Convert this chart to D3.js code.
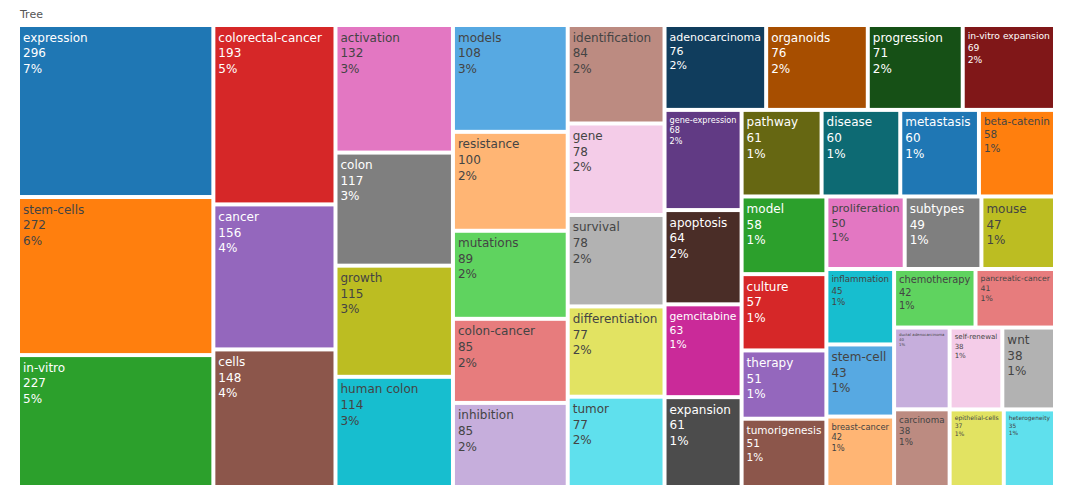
<!DOCTYPE html>
<html>
<head>
<meta charset="utf-8">
<script src="https://cdn.jsdelivr.net/npm/d3@7"></script>
<style>
  body { margin: 0; background: #fff; }
  svg { display: block; font-family: "DejaVu Sans", Verdana, sans-serif; }
</style>
</head>
<body>
<svg id="chart" width="1080" height="494"></svg>
<script>
// keyword labels and their occurrences, in the order the treemap sorts them
const labels = [
  "expression", "stem-cells", "in-vitro", "colorectal-cancer", "cancer", "cells",
  "activation", "colon", "growth", "human colon", "models", "resistance",
  "mutations", "colon-cancer", "inhibition", "identification", "gene", "survival",
  "differentiation", "tumor", "adenocarcinoma", "organoids", "progression",
  "in-vitro expansion", "gene-expression", "apoptosis", "gemcitabine", "expansion",
  "pathway", "disease", "metastasis", "beta-catenin", "model", "culture", "therapy",
  "tumorigenesis", "proliferation", "subtypes", "mouse", "inflammation", "stem-cell",
  "breast-cancer", "chemotherapy", "pancreatic-cancer", "ductal adenocarcinoma",
  "carcinoma", "self-renewal", "wnt", "epithelial-cells", "heterogeneity"
];
const values = [
  296, 272, 227, 193, 156, 148,
  132, 117, 115, 114, 108, 100,
  89, 85, 85, 84, 78, 78,
  77, 77, 76, 76, 71,
  69, 68, 64, 63, 61,
  61, 60, 60, 58, 58, 57, 51,
  51, 50, 49, 47, 45, 43,
  42, 42, 41, 40,
  38, 38, 38, 37, 35
];
const title = "Tree";

// plotly colorway, extended with lighter and darker variants
const colorway = ["#1f77b4", "#ff7f0e", "#2ca02c", "#d62728", "#9467bd",
                  "#8c564b", "#e377c2", "#7f7f7f", "#bcbd22", "#17becf"];

const width = 1080, height = 494;
const area = { x0: 18, y0: 25, x1: 1055, y1: 487 };
const gap = 2;      // half of the white gutter between tiles
const textPad = 3;
const fontSize = 12;
const lineHeight = fontSize * 1.3;

function shade(c, amount) {
  const h = d3.hsl(c);
  h.l = Math.max(0, Math.min(1, h.l + amount));
  return h.formatHex();
}
const colors = colorway
  .concat(colorway.map(c => shade(c, 0.2)))
  .concat(colorway.map(c => shade(c, -0.2)));

function textColor(bg) {
  const c = d3.rgb(bg);
  const brightness = (c.r * 299 + c.g * 587 + c.b * 114) / 1000;
  return brightness < 128 ? "#fff" : "#444";
}

const total = d3.sum(values);
const pct = d3.format(".0%");

const root = d3.hierarchy({
  children: labels.map((label, i) => ({ label, value: values[i], index: i }))
}).sum(d => d.value || 0)
  .sort((a, b) => b.value - a.value || a.data.index - b.data.index);

d3.treemap()
  .tile(d3.treemapSquarify.ratio(1))
  .size([area.x1 - area.x0, area.y1 - area.y0])(root);

const svg = d3.select("#chart");

svg.append("text")
  .attr("x", 20)
  .attr("y", 18)
  .attr("font-size", 11)
  .attr("fill", "#555")
  .text(title);

const g = svg.append("g").attr("transform", `translate(${area.x0},${area.y0})`);

const leaf = g.selectAll("g.leaf")
  .data(root.leaves())
  .join("g")
  .attr("class", "leaf");

leaf.append("rect")
  .attr("x", d => d.x0 + gap)
  .attr("y", d => d.y0 + gap)
  .attr("width", d => Math.max(0, d.x1 - d.x0 - 2 * gap))
  .attr("height", d => Math.max(0, d.y1 - d.y0 - 2 * gap))
  .attr("fill", d => colors[d.data.index % colors.length]);

leaf.each(function (d) {
  const w = d.x1 - d.x0 - 2 * gap;
  const h = d.y1 - d.y0 - 2 * gap;
  const lines = [d.data.label, String(d.value), pct(d.value / total)];
  const t = d3.select(this).append("text")
    .attr("font-size", fontSize)
    .attr("fill", textColor(colors[d.data.index % colors.length]));
  t.selectAll("tspan")
    .data(lines)
    .join("tspan")
    .attr("x", 0)
    .attr("y", (_, i) => fontSize * 0.96 + i * lineHeight)
    .text(s => s);
  const bb = t.node().getBBox();
  const s = Math.min(1, (w - 2 * textPad) / bb.width, (h - 2 * textPad) / (lineHeight * 3));
  t.attr("transform", `translate(${d.x0 + gap + textPad},${d.y0 + gap + textPad}) scale(${s})`);
});
</script>
</body>
</html>
